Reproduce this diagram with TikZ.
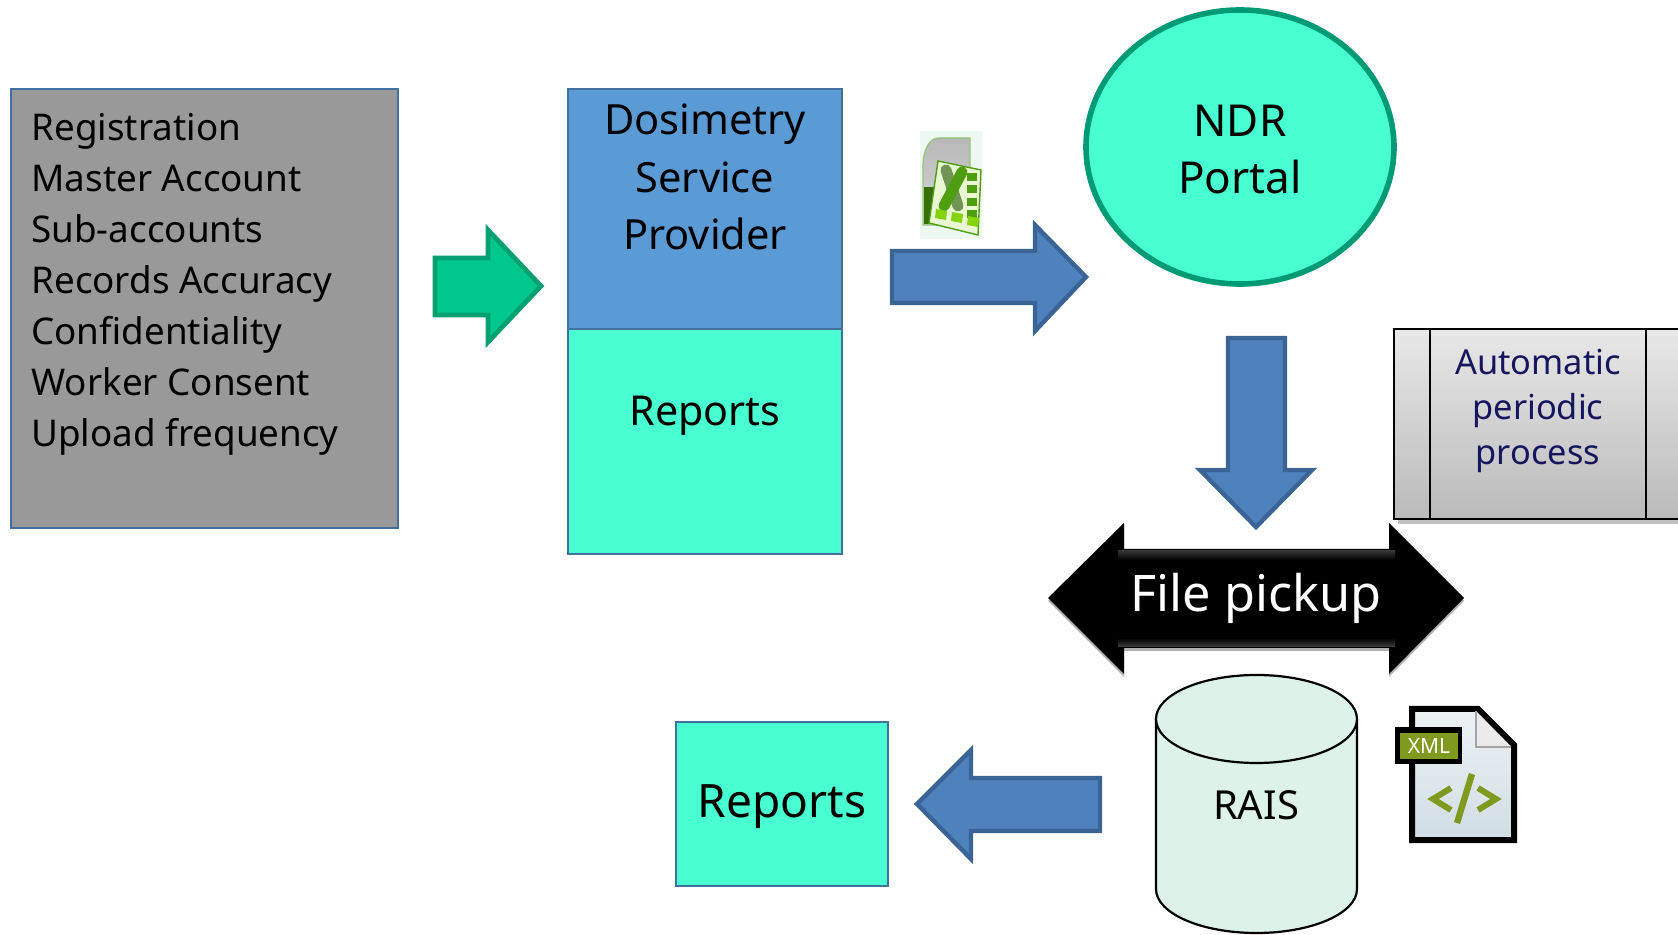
\documentclass[tikz,border=0pt]{standalone}
\usepackage{fontspec}
\setmainfont{Noto Sans}
\usetikzlibrary{shapes.geometric,shadows}
\definecolor{edgeblue}{HTML}{41719C}
\definecolor{greybox}{HTML}{999999}
\definecolor{dspblue}{HTML}{5B9BD5}
\definecolor{aqua}{HTML}{47FFD1}
\definecolor{tealedge}{HTML}{009A74}
\definecolor{greenfill}{HTML}{00C78C}
\definecolor{greenedge}{HTML}{00A070}
\definecolor{arrowblue}{HTML}{4F81BD}
\definecolor{arrowedge}{HTML}{3A6496}
\definecolor{cylfill}{HTML}{DDF2E9}
\definecolor{navytext}{HTML}{16165F}
\definecolor{xmlgreen}{HTML}{7F9A1E}
\definecolor{xmltop}{HTML}{EEF3F5}
\definecolor{xmlbot}{HTML}{CFDDE4}
\definecolor{xlpale}{HTML}{EEF8F3}
\definecolor{xlgreen}{HTML}{4F9E10}
\definecolor{xllime}{HTML}{86D30C}
\tikzset{
  panel/.style={draw=edgeblue,line width=1.4pt,inner sep=0pt},
  blockarrow/.style={fill=arrowblue,draw=arrowedge,line width=2.2pt,line join=miter},
  lbl/.style={inner sep=0pt,align=center,text=black},
}
\begin{document}
\begin{tikzpicture}[x=0.5pt,y=-0.5pt]
\useasboundingbox (0,0) rectangle (1678,935);
% left panel
\draw[panel,fill=greybox] (11,89) rectangle (398,528);
\node[lbl,align=left,anchor=north west,font=\fontsize{18.4}{25.5}\selectfont] (list) at (31,113)
 {Registration\\Master Account\\Sub-accounts\\Records Accuracy\\Confidentiality\\Worker Consent\\Upload frequency};
% green arrow
\draw[fill=greenfill,draw=greenedge,line width=2.4pt] (435,258) -- (488,258) -- (488,230) -- (541,286) -- (488,342) -- (488,315) -- (435,315) -- cycle;
% DSP
\draw[panel,fill=dspblue] (568,89) rectangle (842,329);
\draw[panel,fill=aqua] (568,329) rectangle (842,554);
\node[lbl,font=\fontsize{20.8}{28.6}\selectfont] (dsp) at (705,177) {Dosimetry\\Service\\Provider};
\node[lbl,font=\fontsize{20.6}{28}\selectfont] (rep1) at (705,416) {Reports};
% excel icon
\fill[xlpale] (920,131) rectangle (982,239);
\draw[draw=xlgreen!60!white,line width=.6pt,top color=black!28,bottom color=white!85!black] (923,225) -- (923,165) .. controls (923,150) and (930,138) .. (938,138) -- (970,138) -- (970,170) -- (945,225) -- cycle;
\fill[xlgreen!70!black] (924,187) rectangle (934,224);
\draw[fill=white!82!xllime,draw=xlgreen,line width=.7pt] (938,161) -- (981,170) -- (978,235) -- (929,223) -- cycle;
\draw[line width=5.5pt,black!35!xlgreen!70!white,line cap=round] (946,170) -- (958,206);
\draw[line width=5.5pt,xlgreen,line cap=round] (962,172) -- (944,206);
\foreach \yy in {181,193,206,218} \fill[xlgreen] (967,\yy) rectangle +(10,-8);
\foreach \xx/\yy in {936/209,952/212,968/216} \fill[xllime] (\xx,\yy) -- +(11,2) -- +(10,11) -- +(-1,9) -- cycle;
% blue arrow right
\draw[blockarrow] (892,251) -- (1035,251) -- (1035,225) -- (1086,277) -- (1035,331) -- (1035,303) -- (892,303) -- cycle;
% ellipse
\node[ellipse,draw=tealedge,fill=aqua,line width=2.8pt,minimum width=154pt,minimum height=137pt,inner sep=0pt] (ndr) at (1240,147) {};
\node[lbl,font=\fontsize{22}{28.5}\selectfont] (ndrtext) at (1240,150) {NDR\\Portal};
% down arrow
\draw[blockarrow] (1228,338) -- (1285,338) -- (1285,470) -- (1312,470) -- (1256,527) -- (1200,470) -- (1228,470) -- cycle;
% auto box
\begin{scope}
\clip (1380,310) rectangle (1678,535);
\fill[black!25] (1398,334) rectangle (1690,524);
\draw[black,line width=1pt,top color=black!9,bottom color=black!27] (1394,329) rectangle (1700,519);
\draw[black,line width=1pt] (1430,329) -- (1430,519) (1646,329) -- (1646,519);
\end{scope}
\node[lbl,text=navytext,font=\fontsize{17.2}{22.6}\selectfont] (auto) at (1538,411) {Automatic\\periodic\\process};
% file pickup
\fill[black!30] (1048,601) -- (1124,526) -- (1124,552) -- (1389,552) -- (1389,526) -- (1464,601) -- (1389,677) -- (1389,651) -- (1124,651) -- (1124,677) -- cycle;
\fill[black] (1048,598) -- (1124,523) -- (1124,549) -- (1389,549) -- (1389,523) -- (1464,598) -- (1389,674) -- (1389,648) -- (1124,648) -- (1124,674) -- cycle;
\shade[top color=black!80,bottom color=black] (1118,551) rectangle (1395,560);
\shade[top color=black,bottom color=black!75] (1118,638) rectangle (1395,647);
\node[lbl,text=white,font=\fontsize{25.2}{30}\selectfont] (pickup) at (1256,598) {File pickup};
% cylinder
\draw[black,fill=cylfill,line width=1.1pt] (1156,719) -- (1156,889) arc[start angle=180,end angle=0,x radius=100.5,y radius=44] -- (1357,719);
\draw[black,fill=cylfill,line width=1.1pt] (1256.5,719) ellipse [x radius=100.5,y radius=44];
\node[lbl,font=\fontsize{20}{24}\selectfont] (rais) at (1256,805) {RAIS};
% xml icon
\draw[black,line width=3pt,line join=miter,top color=xmltop,bottom color=xmlbot] (1412,709) -- (1478,709) -- (1514,745) -- (1514,840) -- (1412,840) -- cycle;
\fill[white!92!black] (1476,711) -- (1476,747) -- (1511,747) -- cycle;
\draw[black!35,line width=1pt] (1476,711) -- (1476,747) -- (1511,747);
\fill[black] (1395,727) rectangle (1462,764);
\fill[xmlgreen] (1400,733) rectangle (1458,759);
\node[lbl,text=white,font=\bfseries\fontsize{10.5}{11}\selectfont] (xmltag) at (1429,746) {XML};
\draw[xmlgreen,line width=3pt,line join=miter] (1451,788) -- (1433,799) -- (1451,810);
\draw[xmlgreen,line width=3pt,line join=miter] (1478,788) -- (1496,799) -- (1478,810);
\draw[xmlgreen,line width=3.2pt] (1472,774) -- (1457,823);
% left arrow
\draw[blockarrow] (1100,778) -- (971,778) -- (971,750) -- (917,804) -- (971,859) -- (971,831) -- (1100,831) -- cycle;
% reports 2
\draw[panel,fill=aqua] (676,722) rectangle (888,886);
\node[lbl,font=\fontsize{23}{28}\selectfont] (rep2) at (782,807) {Reports};
\end{tikzpicture}
\end{document}
